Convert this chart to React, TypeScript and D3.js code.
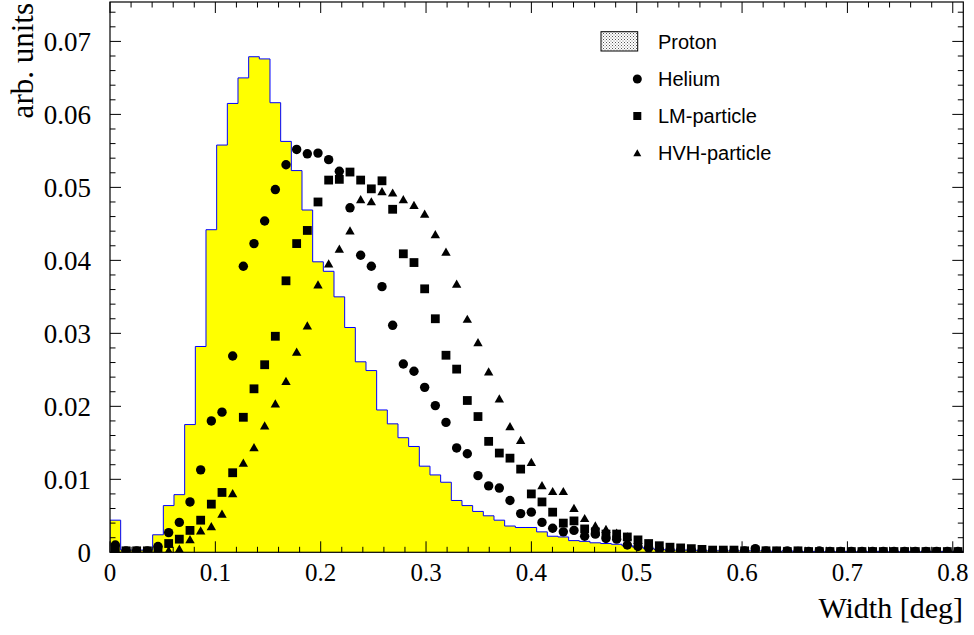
import React from 'react';
import * as d3 from 'd3';

const X_MAX = 0.81;
const Y_MAX = 0.0754;

const proton = [
  0.0044, 0.0003, 0.0003, 0.0003, 0.0024, 0.0064, 0.0079, 0.0175, 0.0282, 0.0442,
  0.0558, 0.0615, 0.0650, 0.0679, 0.0676, 0.0616, 0.0563, 0.0523, 0.0469, 0.0398,
  0.0385, 0.0350, 0.0308, 0.0261, 0.0249, 0.0195, 0.0176, 0.0157, 0.0145, 0.0118,
  0.0106, 0.0096, 0.0071, 0.0064, 0.0056, 0.0050, 0.0044, 0.0036, 0.0034, 0.0034,
  0.0028, 0.0022, 0.0021, 0.0016, 0.0015, 0.0013, 0.0012, 0.0011, 0.0009, 0.0007,
  0.0005, 0.0004, 0.0003, 0.0003, 0.0003, 0.0002, 0.0002, 0.0002, 0.0002, 0.0002,
  0.0002, 0.0002, 0.0001, 0.0002, 0.0001, 0.0001, 0.0001, 0.0001, 0.0001, 0.0001,
  0.0001, 0.0001, 0.0001, 0.0001, 0.0001, 0.0001, 0.0001, 0.0001, 0.0001, 0.0001,
];

const helium = [
  0.0010, 0.0002, 0.0002, 0.0002, 0.0008, 0.0027, 0.0041, 0.0069, 0.0113, 0.0180,
  0.0192, 0.0269, 0.0392, 0.0423, 0.0454, 0.0497, 0.0531, 0.0552, 0.0546, 0.0547,
  0.0538, 0.0522, 0.0472, 0.0407, 0.0392, 0.0364, 0.0311, 0.0258, 0.0248, 0.0226,
  0.0201, 0.0178, 0.0143, 0.0135, 0.0105, 0.0091, 0.0088, 0.0071, 0.0053, 0.0055,
  0.0041, 0.0033, 0.0028, 0.0030, 0.0022, 0.0025, 0.0019, 0.0018, 0.0010, 0.0008,
  0.0006, 0.0004, 0.0003, 0.0003, 0.0003, 0.0002, 0.0002, 0.0002, 0.0002, 0.0002,
  0.0005, 0.0002, 0.0001, 0.0002, 0.0001, 0.0001, 0.0002, 0.0001, 0.0001, 0.0001,
  0.0001, 0.0001, 0.0001, 0.0001, 0.0001, 0.0001, 0.0001, 0.0001, 0.0001, 0.0001,
];

const lmParticle = [
  0.0004, 0.0002, 0.0002, 0.0002, 0.0003, 0.0012, 0.0018, 0.0030, 0.0044, 0.0066,
  0.0082, 0.0109, 0.0185, 0.0224, 0.0257, 0.0296, 0.0372, 0.0423, 0.0441, 0.0480,
  0.0510, 0.0511, 0.0521, 0.0510, 0.0498, 0.0509, 0.0470, 0.0409, 0.0397, 0.0361,
  0.0320, 0.0270, 0.0251, 0.0208, 0.0186, 0.0152, 0.0136, 0.0129, 0.0114, 0.0080,
  0.0069, 0.0055, 0.0040, 0.0043, 0.0032, 0.0028, 0.0025, 0.0025, 0.0021, 0.0017,
  0.0012, 0.0009, 0.0007, 0.0006, 0.0005, 0.0004, 0.0003, 0.0003, 0.0003, 0.0002,
  0.0002, 0.0002, 0.0002, 0.0001, 0.0002, 0.0001, 0.0001, 0.0001, 0.0001, 0.0001,
  0.0001, 0.0001, 0.0001, 0.0001, 0.0001, 0.0001, 0.0001, 0.0001, 0.0001, 0.0001,
];

const hvhParticle = [
  0.0001, 0.0001, 0.0001, 0.0001, 0.0001, 0.0003, 0.0005, 0.0018, 0.0030, 0.0036,
  0.0053, 0.0081, 0.0123, 0.0144, 0.0174, 0.0204, 0.0235, 0.0275, 0.0311, 0.0367,
  0.0396, 0.0416, 0.0441, 0.0484, 0.0481, 0.0495, 0.0493, 0.0484, 0.0476, 0.0464,
  0.0436, 0.0412, 0.0368, 0.0320, 0.0288, 0.0248, 0.0211, 0.0173, 0.0154, 0.0124,
  0.0092, 0.0084, 0.0084, 0.0061, 0.0047, 0.0037, 0.0032, 0.0027, 0.0022, 0.0017,
  0.0012, 0.0009, 0.0007, 0.0005, 0.0004, 0.0004, 0.0003, 0.0003, 0.0002, 0.0002,
  0.0002, 0.0002, 0.0001, 0.0001, 0.0001, 0.0001, 0.0001, 0.0001, 0.0001, 0.0001,
  0.0001, 0.0001, 0.0001, 0.0001, 0.0001, 0.0001, 0.0001, 0.0001, 0.0001, 0.0001,
];

const xTickLabels = ['0', '0.1', '0.2', '0.3', '0.4', '0.5', '0.6', '0.7', '0.8'];
const yTickLabels = ['0', '0.01', '0.02', '0.03', '0.04', '0.05', '0.06', '0.07'];
const legendLabels = ['Proton', 'Helium', 'LM-particle', 'HVH-particle'];
const xTitle = 'Width [deg]';
const yTitle = 'arb. units';

const SERIF = '"Liberation Serif", "Times New Roman", serif';
const SANS = '"Liberation Sans", Arial, sans-serif';

function triPath(cx: number, cy: number, w: number, h: number) {
  return `M${cx - w / 2},${cy + h / 2}L${cx + w / 2},${cy + h / 2}L${cx},${cy - h / 2}Z`;
}

export default function App() {
  const W = 974;
  const H = 635;
  const L = 110, R = 963.3, T = 2, B = 552.3;
  const x = d3.scaleLinear().domain([0, X_MAX]).range([L, R]);
  const y = d3.scaleLinear().domain([0, Y_MAX]).range([B, T]);
  const n = proton.length;
  const bw = X_MAX / n;
  const centers = d3.range(n).map((i) => (i + 0.5) * bw);

  const stepPts: [number, number][] = [];
  proton.forEach((v, i) => {
    stepPts.push([i * bw, v]);
    stepPts.push([(i + 1) * bw, v]);
  });
  const areaPath = d3
    .area<[number, number]>()
    .x((d) => x(d[0]))
    .y0(y(0))
    .y1((d) => y(d[1]))(stepPts) || '';
  const linePath = d3
    .line<[number, number]>()
    .x((d) => x(d[0]))
    .y((d) => y(d[1]))([[0, 0], ...stepPts, [X_MAX, 0]]) || '';

  const xMinor = d3.range(0, 41).map((i) => i * 0.02);
  const yMinor = d3.range(0, 38).map((i) => i * 0.002);
  const MAJ = 11, MIN = 5.5;

  const ticks: JSX.Element[] = [];
  xMinor.forEach((v, i) => {
    const len = i % 5 === 0 ? MAJ : MIN;
    const px = x(v);
    ticks.push(<line key={'xb' + i} x1={px} x2={px} y1={B} y2={B - len} />);
    ticks.push(<line key={'xt' + i} x1={px} x2={px} y1={T} y2={T + len} />);
  });
  yMinor.forEach((v, i) => {
    const len = i % 5 === 0 ? MAJ : MIN;
    const py = y(v);
    if (py < T) return;
    ticks.push(<line key={'yl' + i} x1={L} x2={L + len} y1={py} y2={py} />);
    ticks.push(<line key={'yr' + i} x1={R} x2={R - len} y1={py} y2={py} />);
  });

  const legX = 637.3;
  const legRows = [41.5, 79, 116, 152.7];

  return (
    <svg
      width={W}
      height={H}
      viewBox={`0 0 ${W} ${H}`}
      style={{ position: 'absolute', left: 0, top: 0, background: '#fff' }}
    >
      <defs>
        <clipPath id="frameClip">
          <rect x={L} y={T} width={R - L} height={B - T} />
        </clipPath>
        <pattern id="stipple" width="3" height="3" patternUnits="userSpaceOnUse">
          <rect width="3" height="3" fill="#fff" />
          <rect x="0" y="0" width="1" height="1" fill="#555" />
          <rect x="1.5" y="1.5" width="1" height="1" fill="#777" />
        </pattern>
      </defs>
      <rect x={0} y={0} width={W} height={H} fill="#fff" />
      <g clipPath="url(#frameClip)">
        <path d={areaPath} fill="#ffff00" stroke="none" />
        <path d={linePath} fill="none" stroke="#0000ff" strokeWidth={1} />
        <g fill="#000">
          {helium.map((v, i) => (
            <circle key={'he' + i} cx={x(centers[i])} cy={y(v)} r={4.7} />
          ))}
          {lmParticle.map((v, i) => (
            <rect key={'lm' + i} x={x(centers[i]) - 4.4} y={y(v) - 4.4} width={8.8} height={8.8} />
          ))}
          {hvhParticle.map((v, i) => (
            <path key={'hv' + i} d={triPath(x(centers[i]), y(v), 9.4, 8.2)} />
          ))}
        </g>
      </g>
      <g stroke="#000" strokeWidth={1}>{ticks}</g>
      <rect x={L} y={T} width={R - L} height={B - T} fill="none" stroke="#000" strokeWidth={1.2} />

      <g fontFamily={SERIF} fill="#000">
        {xTickLabels.map((t, i) => (
          <text key={'xl' + i} x={x(i * 0.1)} y={581} textAnchor="middle" fontSize={25}>
            {t}
          </text>
        ))}
        {yTickLabels.map((t, i) => (
          <text key={'yl' + i} x={91} y={y(i * 0.01)} dy="0.35em" textAnchor="end" fontSize={27}>
            {t}
          </text>
        ))}
      </g>
      <text x={963} y={618} fontFamily={SERIF} fontSize={30} textAnchor="end">
        {xTitle}
      </text>
      <text
        transform="translate(33,3) rotate(-90)"
        fontFamily={SERIF}
        fontSize={31}
        textAnchor="end"
      >
        {yTitle}
      </text>

      <g fontFamily={SANS} fontSize={20} fill="#000">
        <rect x={601} y={31.7} width={36.7} height={19.3} fill="url(#stipple)" stroke="#000" strokeWidth={1} />
        <circle cx={legX} cy={legRows[1]} r={4.5} />
        <rect x={legX - 4} y={legRows[2] - 4} width={8} height={8} />
        <path d={triPath(legX, legRows[3], 8, 7)} />
        {legendLabels.map((t, i) => (
          <text key={'lg' + i} x={658} y={legRows[i]} dy="0.35em">
            {t}
          </text>
        ))}
      </g>
    </svg>
  );
}
